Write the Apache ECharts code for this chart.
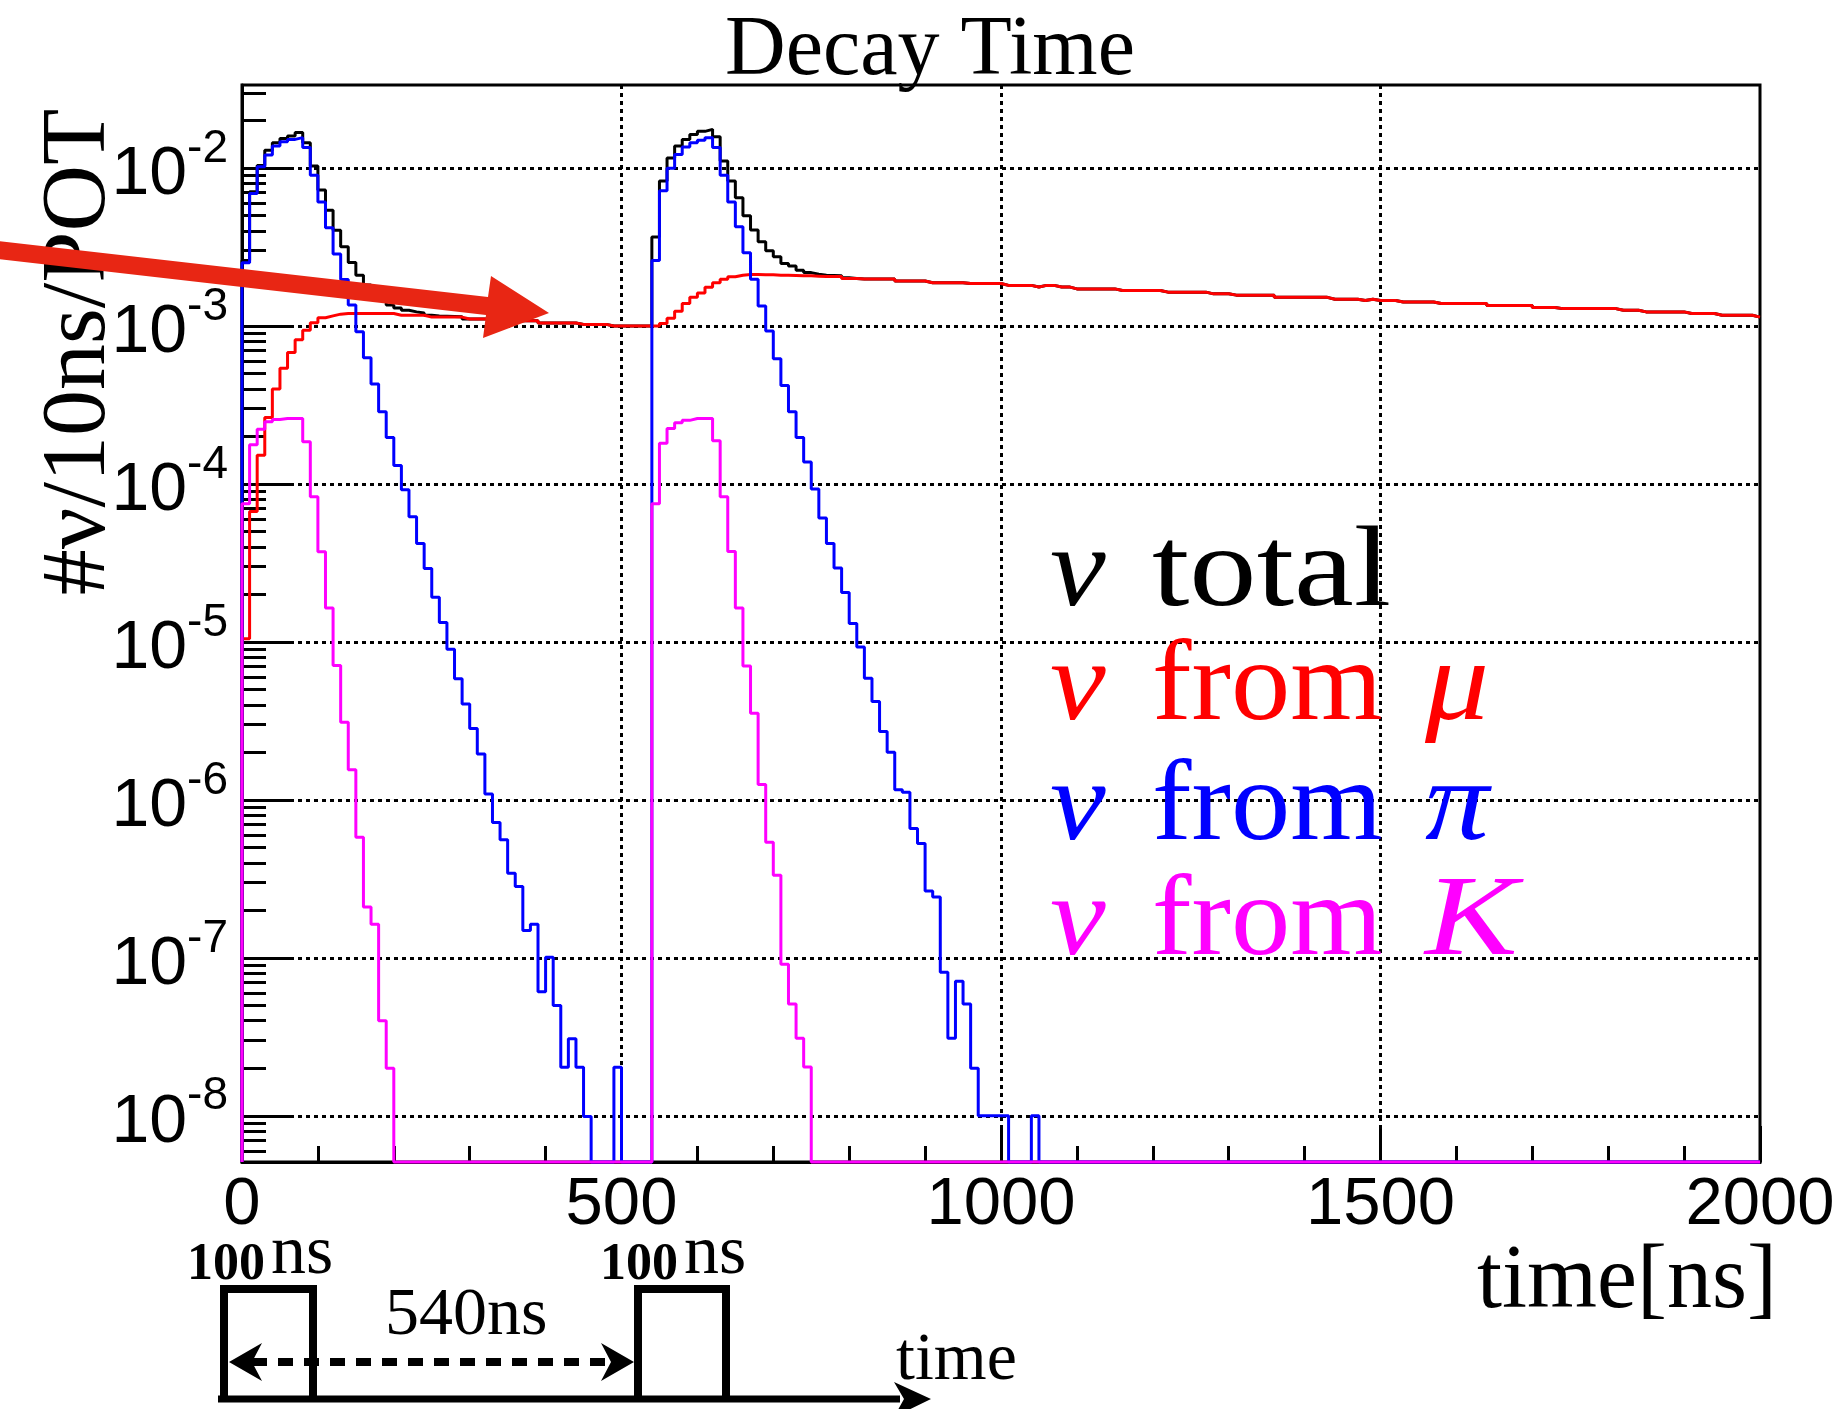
<!DOCTYPE html>
<html><head><meta charset="utf-8">
<script src="https://cdn.jsdelivr.net/npm/echarts@6/dist/echarts.min.js"></script>
<style>html,body{margin:0;padding:0;background:#fff}#c{width:1839px;height:1409px}</style>
</head><body><div id="c"></div>
<script>
// ---------- data (bin contents, 10 ns bins from 0 to 2000 ns) ----------
const BIN_WIDTH = 10;
const X_MIN = 0, X_MAX = 2000, X_INTERVAL = 500;
const Y_MIN = 5.1e-9, Y_MAX = 0.0336;
const Y_MAJOR = [1e-8, 1e-7, 1e-6, 1e-5, 1e-4, 1e-3, 1e-2];
const Y_MINOR_MULT = [2, 3, 4, 5, 6, 7, 8, 9];
const Y_MINOR_DECADES = [-9, -8, -7, -6, -5, -4, -3, -2];

const NU_TOTAL = [
 2.6e-3,7.1e-3,1.04e-2,1.3e-2,1.45e-2,1.54e-2,1.6e-2,1.68e-2,1.45e-2,1.03e-2,
 7.26e-3,5.42e-3,4.05e-3,3.18e-3,2.53e-3,2.1e-3,1.82e-3,1.6e-3,1.45e-3,1.36e-3,
 1.3e-3,1.26e-3,1.23e-3,1.21e-3,1.17e-3,1.16e-3,1.155e-3,1.15e-3,1.145e-3,1.11e-3,
 1.11e-3,1.11e-3,1.11e-3,1.08e-3,1.08e-3,1.08e-3,1.08e-3,1.08e-3,1.08e-3,1.045e-3,
 1.045e-3,1.045e-3,1.045e-3,1.045e-3,1.025e-3,1.025e-3,1.025e-3,1.025e-3,1.0e-3,1.0e-3,
 1.0e-3,1.0e-3,1.0e-3,1.0e-3,3.67e-3,8.3e-3,1.16e-2,1.38e-2,1.52e-2,1.63e-2,
 1.71e-2,1.76e-2,1.58e-2,1.11e-2,8.3e-3,6.5e-3,5.0e-3,4.06e-3,3.42e-3,3.0e-3,
 2.75e-3,2.49e-3,2.4e-3,2.26e-3,2.18e-3,2.13e-3,2.1e-3,2.09e-3,2.08e-3,2.02e-3,
 2.0e-3,1.99e-3,1.99e-3,1.99e-3,1.99e-3,1.99e-3,1.93e-3,1.93e-3,1.93e-3,1.93e-3,
 1.88e-3,1.88e-3,1.88e-3,1.88e-3,1.88e-3,1.86e-3,1.86e-3,1.86e-3,1.86e-3,1.86e-3,
 1.81e-3,1.81e-3,1.81e-3,1.81e-3,1.77e-3,1.81e-3,1.81e-3,1.77e-3,1.77e-3,1.72e-3,
 1.72e-3,1.72e-3,1.72e-3,1.72e-3,1.72e-3,1.68e-3,1.68e-3,1.68e-3,1.68e-3,1.68e-3,
 1.68e-3,1.64e-3,1.64e-3,1.64e-3,1.64e-3,1.64e-3,1.64e-3,1.60e-3,1.60e-3,1.60e-3,
 1.57e-3,1.57e-3,1.57e-3,1.57e-3,1.57e-3,1.57e-3,1.52e-3,1.52e-3,1.52e-3,1.52e-3,
 1.52e-3,1.52e-3,1.52e-3,1.48e-3,1.48e-3,1.48e-3,1.48e-3,1.45e-3,1.48e-3,1.45e-3,
 1.45e-3,1.45e-3,1.42e-3,1.42e-3,1.42e-3,1.42e-3,1.42e-3,1.39e-3,1.39e-3,1.39e-3,
 1.39e-3,1.39e-3,1.39e-3,1.39e-3,1.35e-3,1.35e-3,1.35e-3,1.35e-3,1.35e-3,1.35e-3,
 1.31e-3,1.31e-3,1.31e-3,1.29e-3,1.29e-3,1.29e-3,1.29e-3,1.29e-3,1.29e-3,1.29e-3,
 1.29e-3,1.26e-3,1.26e-3,1.26e-3,1.23e-3,1.23e-3,1.23e-3,1.23e-3,1.23e-3,1.23e-3,
 1.20e-3,1.20e-3,1.20e-3,1.20e-3,1.17e-3,1.17e-3,1.17e-3,1.17e-3,1.17e-3,1.14e-3
];
const NU_MU = [
 1.05e-5,6.7e-5,1.52e-4,2.64e-4,4.0e-4,5.4e-4,6.8e-4,8.2e-4,9.4e-4,1.05e-3,
 1.13e-3,1.16e-3,1.19e-3,1.2e-3,1.2e-3,1.2e-3,1.2e-3,1.2e-3,1.2e-3,1.2e-3,
 1.17e-3,1.17e-3,1.17e-3,1.17e-3,1.14e-3,1.14e-3,1.14e-3,1.14e-3,1.14e-3,1.11e-3,
 1.11e-3,1.11e-3,1.11e-3,1.08e-3,1.08e-3,1.08e-3,1.08e-3,1.08e-3,1.08e-3,1.045e-3,
 1.045e-3,1.045e-3,1.045e-3,1.045e-3,1.025e-3,1.025e-3,1.025e-3,1.025e-3,1.0e-3,1.0e-3,
 1.0e-3,1.0e-3,1.0e-3,1.0e-3,1.0e-3,1.04e-3,1.12e-3,1.24e-3,1.39e-3,1.52e-3,
 1.62e-3,1.76e-3,1.88e-3,1.98e-3,2.05e-3,2.1e-3,2.12e-3,2.12e-3,2.11e-3,2.11e-3,
 2.1e-3,2.1e-3,2.09e-3,2.08e-3,2.08e-3,2.07e-3,2.06e-3,2.06e-3,2.06e-3,2.0e-3,
 2.0e-3,1.99e-3,1.99e-3,1.99e-3,1.99e-3,1.99e-3,1.93e-3,1.93e-3,1.93e-3,1.93e-3,
 1.88e-3,1.88e-3,1.88e-3,1.88e-3,1.88e-3,1.86e-3,1.86e-3,1.86e-3,1.86e-3,1.86e-3,
 1.81e-3,1.81e-3,1.81e-3,1.81e-3,1.77e-3,1.81e-3,1.81e-3,1.77e-3,1.77e-3,1.72e-3,
 1.72e-3,1.72e-3,1.72e-3,1.72e-3,1.72e-3,1.68e-3,1.68e-3,1.68e-3,1.68e-3,1.68e-3,
 1.68e-3,1.64e-3,1.64e-3,1.64e-3,1.64e-3,1.64e-3,1.64e-3,1.60e-3,1.60e-3,1.60e-3,
 1.57e-3,1.57e-3,1.57e-3,1.57e-3,1.57e-3,1.57e-3,1.52e-3,1.52e-3,1.52e-3,1.52e-3,
 1.52e-3,1.52e-3,1.52e-3,1.48e-3,1.48e-3,1.48e-3,1.48e-3,1.45e-3,1.48e-3,1.45e-3,
 1.45e-3,1.45e-3,1.42e-3,1.42e-3,1.42e-3,1.42e-3,1.42e-3,1.39e-3,1.39e-3,1.39e-3,
 1.39e-3,1.39e-3,1.39e-3,1.39e-3,1.35e-3,1.35e-3,1.35e-3,1.35e-3,1.35e-3,1.35e-3,
 1.31e-3,1.31e-3,1.31e-3,1.29e-3,1.29e-3,1.29e-3,1.29e-3,1.29e-3,1.29e-3,1.29e-3,
 1.29e-3,1.26e-3,1.26e-3,1.26e-3,1.23e-3,1.23e-3,1.23e-3,1.23e-3,1.23e-3,1.23e-3,
 1.20e-3,1.20e-3,1.20e-3,1.20e-3,1.17e-3,1.17e-3,1.17e-3,1.17e-3,1.17e-3,1.14e-3
];
const NU_PI = [
 2.52e-3,6.9e-3,1.02e-2,1.21e-2,1.38e-2,1.47e-2,1.52e-2,1.56e-2,1.35e-2,9.0e-3,
 6.1e-3,4.2e-3,2.86e-3,1.97e-3,1.36e-3,9.2e-4,6.3e-4,4.3e-4,2.87e-4,1.97e-4,
 1.31e-4,9.2e-5,6.2e-5,4.2e-5,2.92e-5,1.92e-5,1.33e-5,9.0e-6,5.85e-6,4.05e-6,
 2.83e-6,1.95e-6,1.09e-6,7.2e-7,5.6e-7,3.43e-7,2.83e-7,1.49e-7,1.63e-7,6.1e-8,
 1.01e-7,5.0e-8,2.03e-8,3.08e-8,2.03e-8,9.9e-9,0,0,0,2.03e-8,
 0,0,0,0,2.6e-3,7.2e-3,1.0e-2,1.22e-2,1.36e-2,1.45e-2,
 1.5e-2,1.56e-2,1.35e-2,9.0e-3,6.1e-3,4.25e-3,2.91e-3,1.98e-3,1.34e-3,9.3e-4,
 6.2e-4,4.2e-4,2.87e-4,1.97e-4,1.38e-4,9.3e-5,6.1e-5,4.2e-5,2.94e-5,2.06e-5,
 1.31e-5,9.3e-6,5.9e-6,4.2e-6,2.71e-6,2.0e-6,1.16e-6,1.12e-6,6.6e-7,5.3e-7,
 2.65e-7,2.43e-7,8.1e-8,3.1e-8,7.1e-8,5.1e-8,2.0e-8,1.0e-8,1.0e-8,1.0e-8,
 1.0e-8,0,0,0,1.0e-8,0,0,0,0,0,
 0,0,0,0,0,0,0,0,0,0,
 0,0,0,0,0,0,0,0,0,0,
 0,0,0,0,0,0,0,0,0,0,
 0,0,0,0,0,0,0,0,0,0,
 0,0,0,0,0,0,0,0,0,0,
 0,0,0,0,0,0,0,0,0,0,
 0,0,0,0,0,0,0,0,0,0,
 0,0,0,0,0,0,0,0,0,0,
 0,0,0,0,0,0,0,0,0,0
];
const NU_K = [
 7.5e-5,1.77e-4,2.22e-4,2.48e-4,2.56e-4,2.6e-4,2.6e-4,2.6e-4,1.85e-4,8.3e-5,
 3.73e-5,1.64e-5,7.1e-6,3.1e-6,1.55e-6,5.8e-7,2.1e-7,1.63e-7,4.0e-8,2.0e-8,
 0,0,0,0,0,0,0,0,0,0,
 0,0,0,0,0,0,0,0,0,0,
 0,0,0,0,0,0,0,0,0,0,
 0,0,0,0,7.5e-5,1.81e-4,2.25e-4,2.44e-4,2.53e-4,2.6e-4,
 2.6e-4,2.6e-4,1.88e-4,8.3e-5,3.74e-5,1.64e-5,7.05e-6,3.54e-6,1.25e-6,5.4e-7,
 3.33e-7,9.1e-8,5.1e-8,3.1e-8,2.04e-8,0,0,0,0,0,
 0,0,0,0,0,0,0,0,0,0,
 0,0,0,0,0,0,0,0,0,0,
 0,0,0,0,0,0,0,0,0,0,
 0,0,0,0,0,0,0,0,0,0,
 0,0,0,0,0,0,0,0,0,0,
 0,0,0,0,0,0,0,0,0,0,
 0,0,0,0,0,0,0,0,0,0,
 0,0,0,0,0,0,0,0,0,0,
 0,0,0,0,0,0,0,0,0,0,
 0,0,0,0,0,0,0,0,0,0,
 0,0,0,0,0,0,0,0,0,0,
 0,0,0,0,0,0,0,0,0,0
];

const TITLE = 'Decay Time';
const Y_TITLE = '#\u03bd/10ns/POT';
const X_TITLE = 'time[ns]';

// ---------- build ----------
// empty bins are drawn on the frame bottom as ROOT does on a log axis
function histPoints(vals) {
  const pts = [[0, Y_MIN]];
  vals.forEach((v, i) => pts.push([i * BIN_WIDTH, v > 0 ? v : Y_MIN]));
  const last = vals[vals.length - 1];
  pts.push([vals.length * BIN_WIDTH, last > 0 ? last : Y_MIN]);
  return pts;
}
const Y_MINOR = [];
Y_MINOR_DECADES.forEach(d => Y_MINOR_MULT.forEach(m => {
  const v = m * Math.pow(10, d);
  if (v > Y_MIN && v < Y_MAX) Y_MINOR.push(v);
}));

const SERIF = '"Liberation Serif", "Times New Roman", serif';
const SANS = '"Liberation Sans", Arial, sans-serif';
const GRID_LINE = { color: '#000', width: 3, type: [4, 4] };

function hist(name, vals, color) {
  return {
    name, type: 'line', step: 'end', data: histPoints(vals),
    xAxisIndex: 0, yAxisIndex: 0,
    showSymbol: false, symbol: 'none', clip: false, animation: false,
    lineStyle: { color, width: 3 }, itemStyle: { color }
  };
}
function txt(text, x, y, size, color, opts) {
  opts = opts || {};
  return {
    type: 'text', x, y, z: 100, rotation: opts.rotation || 0,
    scaleX: opts.scaleX || 1,
    style: {
      text, x: 0, y: 0, fill: color,
      fontSize: size, fontFamily: opts.family || SERIF,
      fontWeight: opts.weight || 'normal', fontStyle: opts.style || 'normal',
      align: opts.align || 'left', textAlign: opts.align || 'left',
      verticalAlign: 'middle', textVerticalAlign: 'middle'
    }
  };
}
// baseline -> middle for serif font
const mid = (base, fs) => base - 0.34 * fs;

const LEG = 114;
const legendRows = [
  { base: 614, color: '#000000', word: 'total', sym: '' },
  { base: 728, color: '#ff0000', word: 'from', sym: '\u03bc' },
  { base: 848, color: '#0000ff', word: 'from', sym: '\u03c0' },
  { base: 963, color: '#ff00ff', word: 'from', sym: 'K' }
];
const graphics = [];
legendRows.forEach(r => {
  graphics.push(txt('\u03bd', 1050, mid(r.base, LEG), LEG, r.color, { style: 'italic', scaleX: 1.1 }));
  graphics.push(txt(r.word, 1152, mid(r.base, LEG), LEG, r.color, { scaleX: r.word === 'total' ? 1.18 : 1.04 }));
  if (r.sym) graphics.push(txt(r.sym, 1425, mid(r.base, LEG), LEG, r.color, { style: 'italic', scaleX: r.sym === 'K' ? 1.22 : 1.12 }));
});
// titles
graphics.push(txt(TITLE, 930, mid(80, 84), 84, '#000', { align: 'center' }));
graphics.push(txt(Y_TITLE, 80, 352, 92, '#000', { align: 'center', rotation: Math.PI / 2 }));
graphics.push(txt(X_TITLE, 1777, mid(1314, 90), 90, '#000', { align: 'right' }));
// red annotation arrow
graphics.push({ type: 'polygon', z: 110,
  shape: { points: [[-2, 241], [488, 297], [491, 276], [549, 313], [483, 338], [486, 315], [-2, 259]] },
  style: { fill: '#e82614' } });
// bunch-structure sketch
const K = '#000';
graphics.push({ type: 'line', z: 100, shape: { x1: 218, y1: 1399, x2: 900, y2: 1399 }, style: { stroke: K, lineWidth: 7 } });
graphics.push({ type: 'polygon', z: 100, shape: { points: [[931, 1399], [894, 1382], [904, 1399], [894, 1417]] }, style: { fill: K } });
graphics.push({ type: 'polyline', z: 100, shape: { points: [[224, 1399], [224, 1289], [313, 1289], [313, 1399]] }, style: { stroke: K, lineWidth: 8, fill: null } });
graphics.push({ type: 'polyline', z: 100, shape: { points: [[638, 1399], [638, 1289], [726, 1289], [726, 1399]] }, style: { stroke: K, lineWidth: 8, fill: null } });
graphics.push({ type: 'line', z: 100, shape: { x1: 252, y1: 1362, x2: 612, y2: 1362 }, style: { stroke: K, lineWidth: 8, lineDash: [15, 11] } });
graphics.push({ type: 'polygon', z: 100, shape: { points: [[229, 1362], [262, 1343], [252, 1362], [262, 1381]] }, style: { fill: K } });
graphics.push({ type: 'polygon', z: 100, shape: { points: [[634, 1362], [601, 1343], [611, 1362], [601, 1381]] }, style: { fill: K } });
graphics.push(txt('100', 187, mid(1283, 52), 52, K, { weight: 'bold' }));
graphics.push(txt('ns', 271, mid(1278, 70), 70, K));
graphics.push(txt('100', 600, mid(1283, 52), 52, K, { weight: 'bold' }));
graphics.push(txt('ns', 684, mid(1278, 70), 70, K));
graphics.push(txt('540ns', 385, mid(1339, 68), 68, K));
graphics.push(txt('time', 896, mid(1384, 68), 68, K));

const GRID = { left: 242, right: 79, top: 85, bottom: 247 };

const option = {
  backgroundColor: '#ffffff',
  animation: false,
  grid: [
    Object.assign({ show: true, borderColor: '#000', borderWidth: 3, backgroundColor: 'transparent', containLabel: false, outerBoundsMode: 'none' }, GRID),
    Object.assign({ show: false, containLabel: false, outerBoundsMode: 'none' }, GRID)
  ],
  xAxis: [{
    gridIndex: 0, type: 'value', min: X_MIN, max: X_MAX, interval: X_INTERVAL,
    axisLine: { show: true, lineStyle: { color: '#000', width: 3 } },
    axisTick: { show: true, inside: true, length: 36, lineStyle: { color: '#000', width: 3 } },
    minorTick: { show: true, splitNumber: 5, length: 16, lineStyle: { color: '#000', width: 3 } },
    axisLabel: { show: true, color: '#000', fontSize: 67, fontFamily: SANS, margin: 10,
      showMinLabel: true, showMaxLabel: true, formatter: v => String(v) },
    splitLine: { show: true, showMinLine: false, showMaxLine: false, lineStyle: GRID_LINE },
    minorSplitLine: { show: false }
  }, {
    gridIndex: 1, type: 'value', min: X_MIN, max: X_MAX, show: false
  }],
  yAxis: [{
    gridIndex: 0, type: 'log', logBase: 10, min: Y_MIN, max: Y_MAX, position: 'left',
    axisLine: { show: true, lineStyle: { color: '#000', width: 3 } },
    axisTick: { show: true, inside: true, length: 52, customValues: Y_MAJOR, lineStyle: { color: '#000', width: 3 } },
    axisLabel: {
      show: true, customValues: Y_MAJOR, margin: 14, padding: [14, 0, 0, 0],
      formatter: function (v) {
        const l = Math.log10(v), e = Math.round(l);
        if (Math.abs(l - e) > 1e-6) return '';
        return '{b|10}{e|' + e + '}';
      },
      rich: {
        b: { fontSize: 68, fontFamily: SANS, color: '#000', lineHeight: 98 },
        e: { fontSize: 46, fontFamily: SANS, color: '#000', lineHeight: 46, verticalAlign: 'top' }
      }
    },
    splitLine: { show: true, lineStyle: GRID_LINE },
    minorTick: { show: false }
  }, {
    gridIndex: 1, type: 'log', logBase: 10, min: Y_MIN, max: Y_MAX, position: 'left',
    axisLine: { show: false },
    axisTick: { show: true, inside: true, length: 24, customValues: Y_MINOR, lineStyle: { color: '#000', width: 3 } },
    axisLabel: { show: false },
    splitLine: { show: false }
  }],
  series: [
    hist('\u03bd total', NU_TOTAL, '#000000'),
    hist('\u03bd from \u03bc', NU_MU, '#ff0000'),
    hist('\u03bd from \u03c0', NU_PI, '#0000ff'),
    hist('\u03bd from K', NU_K, '#ff00ff')
  ],
  graphic: { elements: graphics }
};

const chart = echarts.init(document.getElementById('c'), null, { renderer: 'canvas', width: 1839, height: 1409 });
chart.setOption(option);
</script>
</body></html>
